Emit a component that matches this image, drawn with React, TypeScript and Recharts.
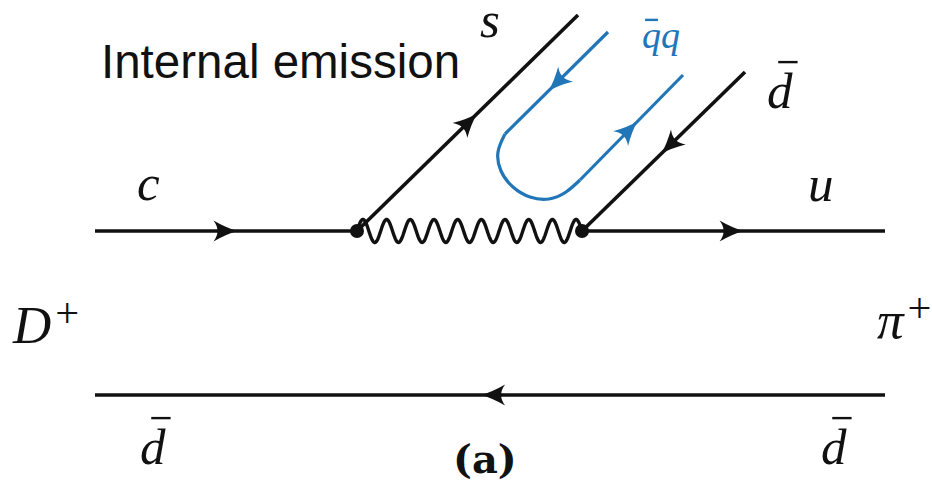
import { ScatterChart, Scatter, XAxis, YAxis } from 'recharts';

const WIDTH = 932;
const HEIGHT = 495;
const INK = '#111111';
const BLUE = '#2176b8';

// quark lines, each listed in the direction its arrow points
const cLine = [{ x: 95, y: 231 }, { x: 357, y: 231 }];
const uLine = [{ x: 582, y: 231 }, { x: 885, y: 231 }];
const sLine = [{ x: 357, y: 231 }, { x: 578, y: 15 }];
const dbarLine = [{ x: 745, y: 72 }, { x: 582, y: 231 }];
const spectatorLine = [{ x: 885, y: 395 }, { x: 95, y: 395 }];

// the popped q-qbar pair (blue U)
const qbarLeg = [{ x: 608, y: 32 }, { x: 505, y: 134 }];
const qTurn = [
  { x: 505, y: 134 }, { x: 498, y: 152 }, { x: 501, y: 171 }, { x: 513, y: 187 },
  { x: 530, y: 197 }, { x: 549, y: 199 }, { x: 566, y: 192 }, { x: 580, y: 180 },
];
const qLeg = [{ x: 580, y: 180 }, { x: 683, y: 75 }];

// W boson and vertices
const wLine = [{ x: 357, y: 231 }, { x: 582, y: 231 }];
const vertices = [{ x: 357, y: 231 }, { x: 582, y: 231 }];

// arrowheads: which line, and how far along it (0..1)
const arrowMarks = [
  { line: 'c', t: 0.54 },
  { line: 'u', t: 0.53 },
  { line: 's', t: 0.54 },
  { line: 'dbar', t: 0.51 },
  { line: 'spectator', t: 0.51 },
];
const blueArrowMarks = [
  { line: 'qbar', t: 0.57 },
  { line: 'q', t: 0.55 },
];

// labels (x = left edge, y = baseline)
const quarkLabels = [
  { x: 137, y: 200, text: 'c' },
  { x: 808, y: 201, text: 'u' },
  { x: 480, y: 37, text: 's' },
  { x: 767, y: 108, text: 'd', bar: true },
  { x: 140, y: 464, text: 'd', bar: true },
  { x: 821, y: 464, text: 'd', bar: true },
];
const mesonLabels = [
  { x: 13, y: 343, text: 'D', sup: '+' },
  { x: 877, y: 338, text: 'π', sup: '+' },
];
const pairLabels = [{ x: 642, y: 48, text: 'qq', bar: true }];
const titleLabels = [{ x: 101, y: 78, text: 'Internal emission' }];
const captionLabels = [{ x: 453, y: 473, text: '(a)' }];

const LINES: Record<string, { x: number; y: number }[]> = {
  c: cLine, u: uLine, s: sLine, dbar: dbarLine, spectator: spectatorLine,
  qbar: qbarLeg, q: qLeg,
};

// overbar placement per glyph, in em
const BAR: Record<string, { from: number; to: number; rise: number }> = {
  d: { from: 0.22, to: 0.6, rise: 0.9 },
  q: { from: 0.08, to: 0.42, rise: 0.74 },
};

const toArrows = (marks: { line: string; t: number }[]) =>
  marks.map(({ line, t }) => {
    const [a, b] = LINES[line];
    return {
      x: a.x + (b.x - a.x) * t,
      y: a.y + (b.y - a.y) * t,
      angle: (Math.atan2(b.y - a.y, b.x - a.x) * 180) / Math.PI,
    };
  });

const NoDot = () => <g />;

const arrowShape = (color: string) => (props: any) => {
  const { cx, cy, payload } = props;
  return (
    <path
      d="M1 0 Q-10 -3 -23 -10.5 Q-15 0 -23 10.5 Q-10 3 1 0 Z"
      fill={color}
      transform={`translate(${cx},${cy}) rotate(${payload.angle})`}
    />
  );
};

const VertexDot = (props: any) => <circle cx={props.cx} cy={props.cy} r={7} fill={INK} />;

const mathLabel = (size: number, color: string) => (props: any) => {
  const { cx, cy, payload } = props;
  const bar = payload.bar ? BAR[payload.text[0]] : null;
  return (
    <g>
      <text x={cx} y={cy} fontFamily="'Liberation Serif', serif" fontStyle="italic" fontSize={size} fill={color}>
        {payload.text}
        {payload.sup && (
          <tspan dx={4} dy={-0.3 * size} fontSize={0.8 * size} fontStyle="normal">
            {payload.sup}
          </tspan>
        )}
      </text>
      {bar && (
        <line
          x1={cx + bar.from * size}
          x2={cx + bar.to * size}
          y1={cy - bar.rise * size}
          y2={cy - bar.rise * size}
          stroke={color}
          strokeWidth={2.4}
        />
      )}
    </g>
  );
};

const plainLabel = (family: string, size: number, weight: string) => (props: any) => (
  <text x={props.cx} y={props.cy} fontFamily={family} fontSize={size} fontWeight={weight} fill={INK}>
    {props.payload.text}
  </text>
);

// W boson drawn as a wavy line between its two end points
const photonLine = (props: any) => {
  const [a, b] = props.points;
  const periods = 9.5;
  const amp = 11.5;
  const len = Math.hypot(b.x - a.x, b.y - a.y);
  const ux = (b.x - a.x) / len;
  const uy = (b.y - a.y) / len;
  const steps = 400;
  let d = '';
  for (let i = 0; i <= steps; i++) {
    const s = (i / steps) * len;
    const off = -amp * Math.sin((2 * Math.PI * periods * s) / len);
    const px = a.x + ux * s - uy * off;
    const py = a.y + uy * s + ux * off;
    d += `${i === 0 ? 'M' : 'L'}${px.toFixed(2)} ${py.toFixed(2)} `;
  }
  return <path d={d} fill="none" stroke={INK} strokeWidth={3.4} />;
};

const inkLine = { stroke: INK, strokeWidth: 3.6 };
const blueLine = { stroke: BLUE, strokeWidth: 3.2 };

export default function App() {
  return (
    <div style={{ position: 'absolute', left: 0, top: 0, width: WIDTH, height: HEIGHT, background: '#fff' }}>
      <ScatterChart width={WIDTH} height={HEIGHT} margin={{ top: 0, right: 0, bottom: 0, left: 0 }}>
        <XAxis type="number" dataKey="x" domain={[0, WIDTH]} hide />
        <YAxis type="number" dataKey="y" domain={[0, HEIGHT]} reversed hide />

        <Scatter data={cLine} line={inkLine} shape={NoDot} isAnimationActive={false} />
        <Scatter data={uLine} line={inkLine} shape={NoDot} isAnimationActive={false} />
        <Scatter data={sLine} line={inkLine} shape={NoDot} isAnimationActive={false} />
        <Scatter data={dbarLine} line={inkLine} shape={NoDot} isAnimationActive={false} />
        <Scatter data={spectatorLine} line={inkLine} shape={NoDot} isAnimationActive={false} />

        <Scatter data={qbarLeg} line={blueLine} shape={NoDot} isAnimationActive={false} />
        <Scatter data={qTurn} line={blueLine} lineJointType="natural" shape={NoDot} isAnimationActive={false} />
        <Scatter data={qLeg} line={blueLine} shape={NoDot} isAnimationActive={false} />

        <Scatter data={wLine} line={photonLine} shape={NoDot} isAnimationActive={false} />
        <Scatter data={vertices} shape={VertexDot} isAnimationActive={false} />

        <Scatter data={toArrows(arrowMarks)} shape={arrowShape(INK)} isAnimationActive={false} />
        <Scatter data={toArrows(blueArrowMarks)} shape={arrowShape(BLUE)} isAnimationActive={false} />

        <Scatter data={quarkLabels} shape={mathLabel(51, INK)} isAnimationActive={false} />
        <Scatter data={mesonLabels} shape={mathLabel(53, INK)} isAnimationActive={false} />
        <Scatter data={pairLabels} shape={mathLabel(38, BLUE)} isAnimationActive={false} />
        <Scatter data={titleLabels} shape={plainLabel("'Liberation Sans', Arial, sans-serif", 47.5, 'normal')} isAnimationActive={false} />
        <Scatter data={captionLabels} shape={plainLabel("'DejaVu Serif', serif", 40, 'bold')} isAnimationActive={false} />
      </ScatterChart>
    </div>
  );
}
